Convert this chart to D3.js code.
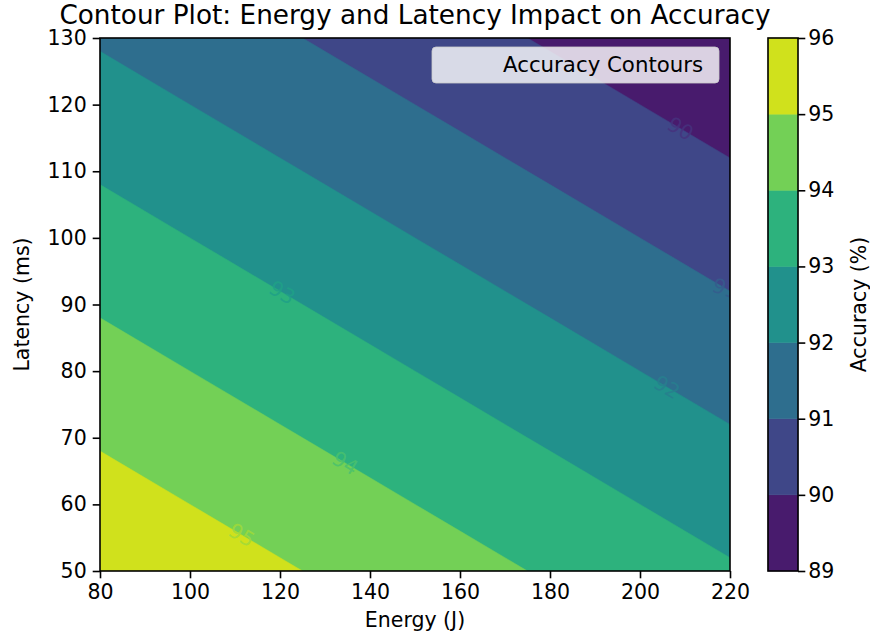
<!DOCTYPE html>
<html>
<head>
<meta charset="utf-8">
<script src="https://cdn.jsdelivr.net/npm/d3@7"></script>
<style>
  body { margin: 0; background: #fff; }
  svg { display: block; font-family: "DejaVu Sans", sans-serif; }
</style>
</head>
<body>
<svg id="chart" width="870" height="638"></svg>
<script>
// grid: energy (J) columns, latency (ms) rows
const energy = [80, 100, 120, 140, 160, 180, 200, 220];
const latency = [50, 60, 70, 80, 90, 100, 110, 120, 130];
// accuracy (%) per latency row, low latency first
const accuracyRows = [
  [95.9, 95.5, 95.1, 94.7, 94.3, 93.9, 93.5, 93.1],
  [95.4, 95.0, 94.6, 94.2, 93.8, 93.4, 93.0, 92.6],
  [94.9, 94.5, 94.1, 93.7, 93.3, 92.9, 92.5, 92.1],
  [94.4, 94.0, 93.6, 93.2, 92.8, 92.4, 92.0, 91.6],
  [93.9, 93.5, 93.1, 92.7, 92.3, 91.9, 91.5, 91.1],
  [93.4, 93.0, 92.6, 92.2, 91.8, 91.4, 91.0, 90.6],
  [92.9, 92.5, 92.1, 91.7, 91.3, 90.9, 90.5, 90.1],
  [92.4, 92.0, 91.6, 91.2, 90.8, 90.4, 90.0, 89.6],
  [91.9, 91.5, 91.1, 90.7, 90.3, 89.9, 89.5, 89.1]
];
const levels = [89, 90, 91, 92, 93, 94, 95, 96];
const xTicks = [80, 100, 120, 140, 160, 180, 200, 220];
const yTicks = [50, 60, 70, 80, 90, 100, 110, 120, 130];
// where the inline contour labels sit (energy)
const labelLevels = [90, 91, 92, 93, 94, 95];
const labelEnergy = [209, 219, 206, 120.5, 134.5, 111.5];

const svg = d3.select("#chart");
const margin = { top: 38, left: 100 };
const width = 630, height = 533;
const fs = 20.5;      // tick / label font
const tickLen = 7.3;

const x = d3.scaleLinear().domain([80, 220]).range([margin.left, margin.left + width]);
const y = d3.scaleLinear().domain([50, 130]).range([margin.top + height, margin.top]);

const nx = energy.length, ny = latency.length;
const flat = accuracyRows.flat();
const bandColor = t => d3.interpolateViridis((t - levels[0] + 0.5) / (levels.length - 1));
const lineColor = t => d3.interpolateViridis((t - levels[0]) / (levels.length - 1));

// grid coord -> data value (d3.contours puts sample i at i+0.5)
const eOf = c => energy[0] + (c - 0.5) * (energy[1] - energy[0]);
const lOf = c => latency[0] + (c - 0.5) * (latency[1] - latency[0]);
const path = d3.geoPath(d3.geoTransform({
  point(px, py) { this.stream.point(x(eOf(px)), y(lOf(py))); }
}));

svg.append("clipPath").attr("id", "plotClip")
  .append("rect").attr("x", margin.left).attr("y", margin.top)
  .attr("width", width).attr("height", height);

const contours = d3.contours().size([nx, ny]).thresholds(levels.slice(0, -1))(flat);
const plot = svg.append("g").attr("clip-path", "url(#plotClip)");
plot.selectAll("path.band")
  .data(contours)
  .join("path")
  .attr("class", "band")
  .attr("d", path)
  .attr("fill", d => bandColor(d.value))
  .attr("stroke", d => bandColor(d.value))
  .attr("stroke-width", 0.5);

// bilinear lookup on the grid
function accuracyAt(e, l) {
  const fi = Math.max(0, Math.min(nx - 1.0001, (e - energy[0]) / (energy[1] - energy[0])));
  const fj = Math.max(0, Math.min(ny - 1.0001, (l - latency[0]) / (latency[1] - latency[0])));
  const i = Math.floor(fi), j = Math.floor(fj), a = fi - i, b = fj - j;
  const v = (jj, ii) => accuracyRows[jj][ii];
  return (1 - a) * (1 - b) * v(j, i) + a * (1 - b) * v(j, i + 1) + (1 - a) * b * v(j + 1, i) + a * b * v(j + 1, i + 1);
}
function latencyFor(level, e) {
  let lo = 50, hi = 130;
  for (let k = 0; k < 40; k += 1) {
    const mid = (lo + hi) / 2;
    if (accuracyAt(e, mid) > level) lo = mid; else hi = mid;
  }
  return (lo + hi) / 2;
}

labelLevels.forEach((lv, k) => {
  const e = labelEnergy[k];
  const px = x(e), py = y(latencyFor(lv, e));
  const p1x = x(e - 5), p1y = y(latencyFor(lv, e - 5));
  const p2x = x(e + 5), p2y = y(latencyFor(lv, e + 5));
  const ang = Math.atan2(p2y - p1y, p2x - p1x) * 180 / Math.PI;
  plot.append("text")
    .attr("transform", `translate(${px},${py}) rotate(${ang})`)
    .attr("text-anchor", "middle")
    .attr("dy", "0.35em")
    .attr("font-size", fs)
    .attr("fill", lineColor(lv))
    .attr("fill-opacity", 0.85)
    .text(lv);
});

// axes
const xAxis = svg.append("g")
  .attr("transform", `translate(0,${margin.top + height})`)
  .call(d3.axisBottom(x).tickValues(xTicks).tickSize(tickLen).tickPadding(6));
const yAxis = svg.append("g")
  .attr("transform", `translate(${margin.left},0)`)
  .call(d3.axisLeft(y).tickValues(yTicks).tickSize(tickLen).tickPadding(6));
[xAxis, yAxis].forEach(g => {
  g.select(".domain").remove();
  g.selectAll("text").attr("font-size", fs).attr("fill", "#000").attr("font-family", "DejaVu Sans");
  g.selectAll("line").attr("stroke", "#000").attr("stroke-width", 1.6);
});

svg.append("rect")
  .attr("x", margin.left).attr("y", margin.top)
  .attr("width", width).attr("height", height)
  .attr("fill", "none").attr("stroke", "#000").attr("stroke-width", 1.6);

// legend (no visible handle)
const leg = svg.append("g");
leg.append("rect")
  .attr("x", 432).attr("y", 47).attr("width", 287).attr("height", 36).attr("rx", 4)
  .attr("fill", "#fff").attr("fill-opacity", 0.8).attr("stroke", "#ccc").attr("stroke-opacity", 0.8);
leg.append("text")
  .attr("x", 503).attr("y", 72)
  .attr("font-size", 21.3).attr("fill", "#000")
  .text("Accuracy Contours");

// title and labels
svg.append("text")
  .attr("x", margin.left + width / 2).attr("y", 24)
  .attr("text-anchor", "middle").attr("font-size", 26.3)
  .text("Contour Plot: Energy and Latency Impact on Accuracy");
svg.append("text")
  .attr("x", margin.left + width / 2).attr("y", 627)
  .attr("text-anchor", "middle").attr("font-size", fs)
  .text("Energy (J)");
svg.append("text")
  .attr("transform", `translate(29,${margin.top + height / 2}) rotate(-90)`)
  .attr("text-anchor", "middle").attr("font-size", fs)
  .text("Latency (ms)");

// colorbar
const cbX = 768, cbW = 30;
const cy = d3.scaleLinear().domain([levels[0], levels[levels.length - 1]]).range([margin.top + height, margin.top]);
svg.append("g").selectAll("rect")
  .data(levels.slice(0, -1))
  .join("rect")
  .attr("x", cbX).attr("width", cbW)
  .attr("y", d => cy(d + 1)).attr("height", d => cy(d) - cy(d + 1))
  .attr("fill", d => bandColor(d))
  .attr("stroke", d => bandColor(d)).attr("stroke-width", 0.5);
const cAxis = svg.append("g")
  .attr("transform", `translate(${cbX + cbW},0)`)
  .call(d3.axisRight(cy).tickValues(levels).tickSize(tickLen).tickPadding(3).tickFormat(d3.format("d")));
cAxis.select(".domain").remove();
cAxis.selectAll("text").attr("font-size", fs).attr("fill", "#000").attr("font-family", "DejaVu Sans");
cAxis.selectAll("line").attr("stroke", "#000").attr("stroke-width", 1.6);
svg.append("rect")
  .attr("x", cbX).attr("y", margin.top).attr("width", cbW).attr("height", height)
  .attr("fill", "none").attr("stroke", "#000").attr("stroke-width", 1.6);
svg.append("text")
  .attr("transform", `translate(866,${margin.top + height / 2}) rotate(-90)`)
  .attr("text-anchor", "middle").attr("font-size", fs)
  .text("Accuracy (%)");
</script>
</body>
</html>
